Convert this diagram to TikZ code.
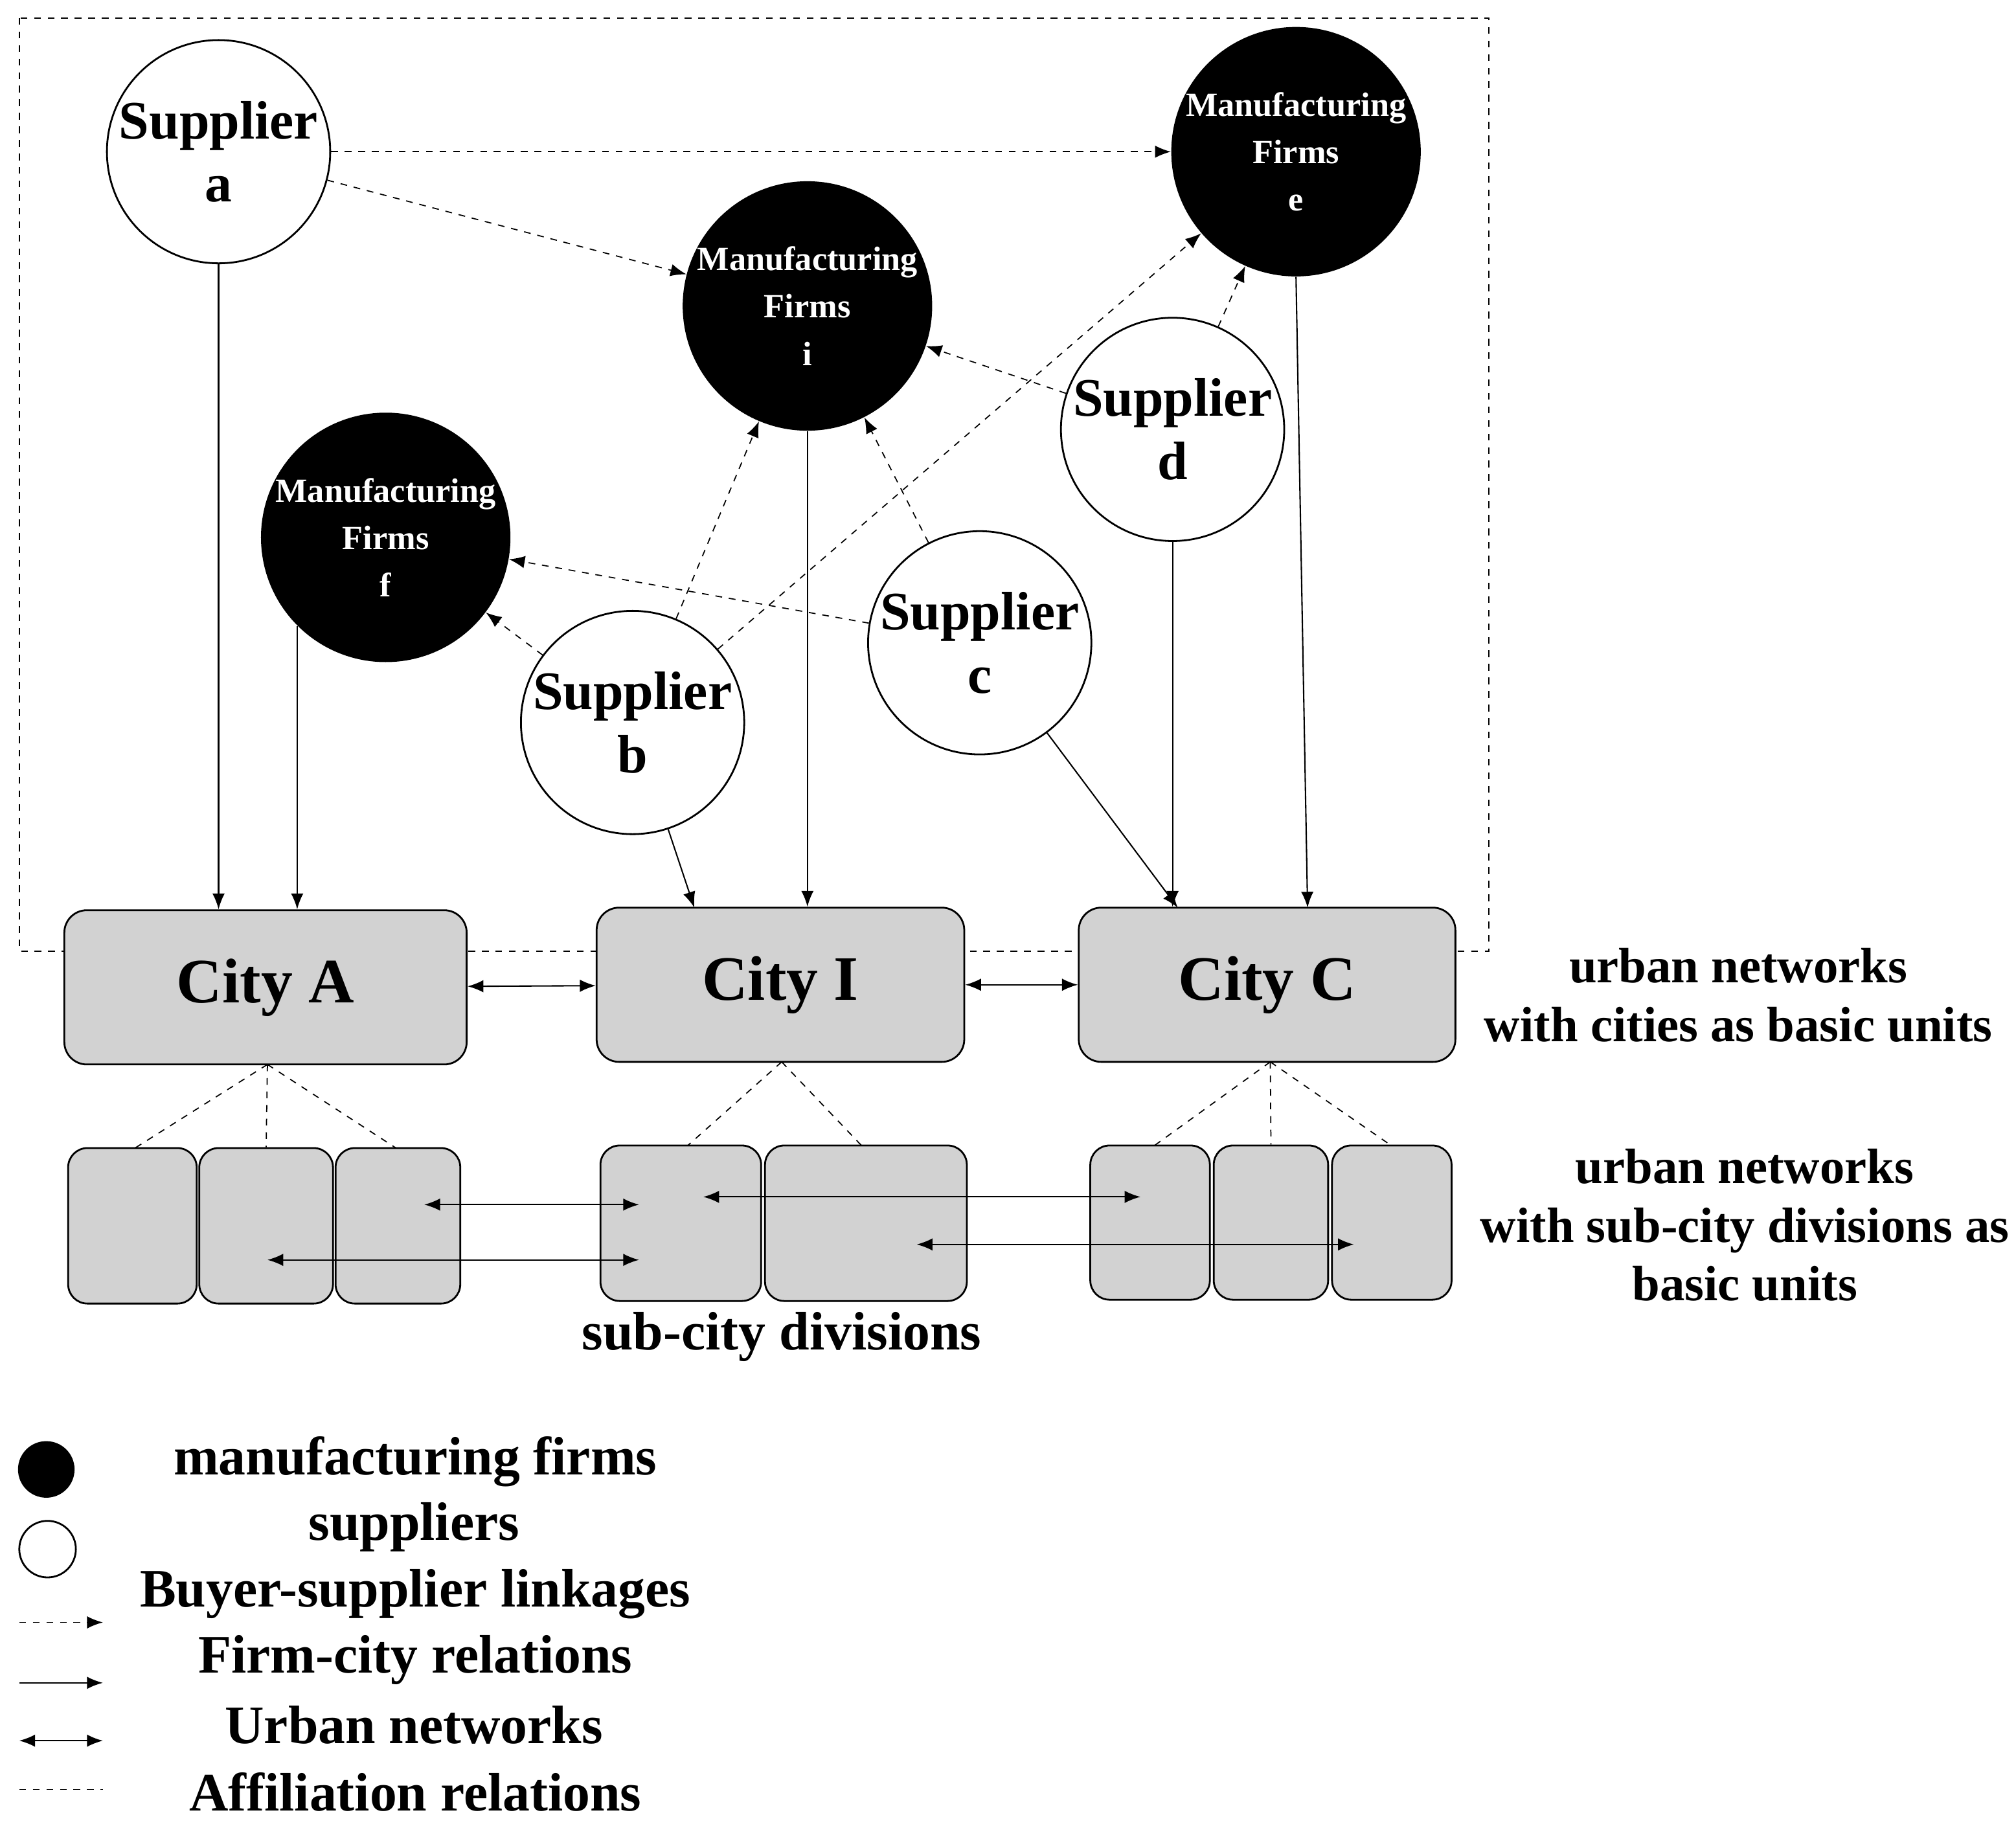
\documentclass[tikz,border=0pt]{standalone}
\usepackage{fontspec}
\setmainfont{Liberation Serif}
\usetikzlibrary{arrows.meta,calc}
\begin{document}
\begin{tikzpicture}[x=0.02cm,y=-0.02cm,
  sup/.style={circle,draw,line width=0.8pt,fill=white,inner sep=0,align=center,font=\fontsize{24}{28}\selectfont\bfseries},
  mfg/.style={circle,fill=black,text=white,inner sep=0,align=center,font=\fontsize{15}{21}\selectfont\bfseries},
  city/.style={draw,line width=0.8pt,fill=gray!35,rounded corners=0.35cm,font=\fontsize{28}{32}\selectfont\bfseries},
  sub/.style={draw,line width=0.8pt,fill=gray!35,rounded corners=0.3cm},
  tip/.style={-{Latex[length=7pt,width=5.5pt]}},
  bs/.style={tip,dashed,line width=0.5pt},
  fc/.style={tip,line width=0.6pt},
  un/.style={{Latex[length=7pt,width=5.5pt]}-{Latex[length=7pt,width=5.5pt]},line width=0.6pt},
  af/.style={dashed,line width=0.5pt},
  lbl/.style={font=\fontsize{22}{26}\selectfont\bfseries,align=center}]
\useasboundingbox (0,0) rectangle (1568,1430);
\draw[dashed,line width=0.7pt] (15,14) rectangle (1158,740);
% cities
\node[city,minimum width=6.26cm,minimum height=2.4cm] (cA) at (206.5,768) {City A};
\node[city,minimum width=5.72cm,minimum height=2.4cm] (cI) at (607,766) {City I};
\node[city,minimum width=5.86cm,minimum height=2.4cm] (cC) at (985.5,766) {City C};
% sub boxes
\node[sub,minimum width=2cm,minimum height=2.42cm] (s1) at (103,953.5) {};
\node[sub,minimum width=2.08cm,minimum height=2.42cm] (s2) at (207,953.5) {};
\node[sub,minimum width=1.94cm,minimum height=2.42cm] (s3) at (309.5,953.5) {};
\node[sub,minimum width=2.5cm,minimum height=2.42cm] (s4) at (529.5,951.5) {};
\node[sub,minimum width=3.14cm,minimum height=2.42cm] (s5) at (673.5,951.5) {};
\node[sub,minimum width=1.86cm,minimum height=2.4cm] (s6) at (894.5,951) {};
\node[sub,minimum width=1.78cm,minimum height=2.4cm] (s7) at (988.5,951) {};
\node[sub,minimum width=1.86cm,minimum height=2.4cm] (s8) at (1082.5,951) {};
% firms
\node[sup,minimum size=2.92cm] (a) at (170,118) {Supplier\\a};
\node[mfg,minimum size=3.6cm] (e) at (1008,118) {Manufacturing\\Firms\\e};
\node[mfg,minimum size=3.6cm] (i) at (628,238) {Manufacturing\\Firms\\i};
\node[mfg,minimum size=3.6cm] (f) at (300,418) {Manufacturing\\Firms\\f};
\node[sup,minimum size=3.08cm] (b) at (492,562) {Supplier\\b};
\node[sup,minimum size=2.96cm] (c) at (762,500) {Supplier\\c};
\node[sup,minimum size=2.92cm] (d) at (912,334) {Supplier\\d};
% buyer-supplier
\draw[bs] (a) -- (e);
\draw[bs] (a) -- (i);
\draw[bs] (d) -- (i);
\draw[bs] (d) -- (e);
\draw[bs] (b) -- (e);
\draw[bs] (b) -- (i);
\draw[bs] (b) -- (f);
\draw[bs] (c) -- (f);
\draw[bs] (c) -- (i);
% firm-city
\coordinate (tb) at (540,706);
\coordinate (tc) at (916,706);
\coordinate (te) at (1017,706);
\draw[fc] (a.south) -- (a.south |- cA.north);
\draw[fc] (f.225.6) -- (f.225.6 |- cA.north);
\draw[fc] (i.south) -- (i.south |- cI.north);
\draw[fc] (b) -- (tb);
\draw[fc] (c) -- (tc);
\draw[fc] (d.south) -- (d.south |- cC.north);
\draw[fc] (e.south) -- (te);
% urban networks
\draw[un] (cA) -- (cI);
\draw[un] (cI) -- (cC);
\coordinate (u1) at (330,937); \coordinate (u2) at (497,937);
\coordinate (u3) at (208,980); \coordinate (u4) at (497,980);
\coordinate (u5) at (547,931); \coordinate (u6) at (887,931);
\coordinate (u7) at (713,968); \coordinate (u8) at (1053,968);
\draw[un] (u1) -- (u2);
\draw[un] (u3) -- (u4);
\draw[un] (u5) -- (u6);
\draw[un] (u7) -- (u8);
% affiliation
\coordinate (pA) at (208,828);
\coordinate (pI) at (608,826);
\coordinate (pC) at (988,826);
\draw[af] (pA) -- (105,893);
\draw[af] (pA) -- (s2.north);
\draw[af] (pA) -- (308,893);
\draw[af] (pI) -- (535,891);
\draw[af] (pI) -- (670,891);
\draw[af] (pC) -- (898,891);
\draw[af] (pC) -- (s7.north);
\draw[af] (pC) -- (1082,891);
% labels
\node[lbl] (l1) at (1352,774) {urban networks\\with cities as basic units};
\node[lbl] (l2) at (1357,953) {urban networks\\with sub-city divisions as\\basic units};
\node[lbl,font=\fontsize{24}{28}\selectfont\bfseries] (l3) at (608,1040) {sub-city divisions};
% legend
\node[circle,fill=black,minimum size=0.88cm,inner sep=0] (k1) at (36,1143) {};
\node[circle,draw,line width=0.8pt,minimum size=0.88cm,inner sep=0] (k2) at (37,1205) {};
\coordinate (k3a) at (15,1262); \coordinate (k3b) at (80,1262);
\coordinate (k4a) at (15,1309); \coordinate (k4b) at (80,1309);
\coordinate (k5a) at (15,1354); \coordinate (k5b) at (80,1354);
\coordinate (k6a) at (15,1392); \coordinate (k6b) at (80,1392);
\draw[bs] (k3a) -- (k3b);
\draw[fc] (k4a) -- (k4b);
\draw[un] (k5a) -- (k5b);
\draw[af] (k6a) -- (k6b);
\tikzset{leg/.style={font=\fontsize{24}{28}\selectfont\bfseries}}
\node[leg] (t1) at (323,1137) {manufacturing firms};
\node[leg] (t2) at (322,1188) {suppliers};
\node[leg] (t3) at (323,1240) {Buyer-supplier linkages};
\node[leg] (t4) at (323,1291) {Firm-city relations};
\node[leg] (t5) at (322,1342) {Urban networks};
\node[leg] (t6) at (323,1394) {Affiliation relations};
\end{tikzpicture}
\end{document}
